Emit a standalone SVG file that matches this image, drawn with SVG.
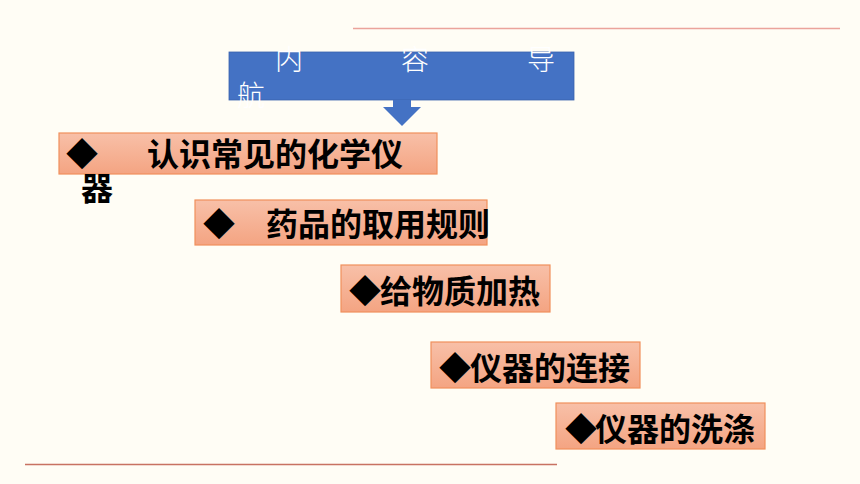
<svg xmlns="http://www.w3.org/2000/svg" width="860" height="484" viewBox="0 0 860 484">
<defs>
<linearGradient id="sal" x1="0" y1="0" x2="0" y2="1">
<stop offset="0" stop-color="#f8c0a8"/>
<stop offset="1" stop-color="#f4a482"/>
</linearGradient>
</defs>
<style>
.box{fill:url(#sal);stroke:#f0905c;stroke-width:1.2}
.t{font-family:"Noto Sans CJK SC","Noto Sans",sans-serif;font-size:32px;font-weight:bold;fill:#000}
.w{font-family:"Noto Sans CJK SC","Noto Sans",sans-serif;font-size:28px;font-weight:300;fill:#fff}
</style>
<rect width="860" height="484" fill="#fffdf5"/>
<line x1="353" y1="28.5" x2="840" y2="28.5" stroke="#eba39b" stroke-width="1.3"/>
<line x1="25" y1="464.5" x2="557" y2="464.5" stroke="#c87262" stroke-width="1.3"/>
<g id="header">
<rect x="229" y="52" width="345" height="48" fill="#4472c4" stroke="#3a62ad" stroke-width="0.8"/>
<text class="w"><tspan x="275" y="70">内</tspan><tspan x="401" y="70">容</tspan><tspan x="527" y="70">导</tspan><tspan x="237" y="106">航</tspan></text>
<polygon points="393,100 411,100 411,107 421,107 402,126 383,107 393,107" fill="#4472c4"/>
</g>
<g id="item1">
<rect class="box" x="59" y="133" width="378" height="41"/>
<text class="t"><tspan x="66" y="166">◆</tspan><tspan x="147" y="166">认识常见的化学仪</tspan></text>
<text class="t" x="81" y="200">器</text>
</g>
<g id="item2">
<rect class="box" x="195" y="200" width="292" height="45"/>
<text class="t"><tspan x="203" y="236">◆</tspan><tspan x="266" y="236">药品的取用规则</tspan></text>
</g>
<g id="item3">
<rect class="box" x="341" y="265" width="209" height="47"/>
<text class="t"><tspan x="349" y="303">◆</tspan><tspan x="380" y="303">给物质加热</tspan></text>
</g>
<g id="item4">
<rect class="box" x="431" y="342" width="209" height="46"/>
<text class="t"><tspan x="439" y="380">◆</tspan><tspan x="470" y="380">仪器的连接</tspan></text>
</g>
<g id="item5">
<rect class="box" x="556" y="403" width="209" height="46"/>
<text class="t"><tspan x="565" y="441">◆</tspan><tspan x="595" y="441">仪器的洗涤</tspan></text>
</g>
<g id="connectors"></g>
</svg>
